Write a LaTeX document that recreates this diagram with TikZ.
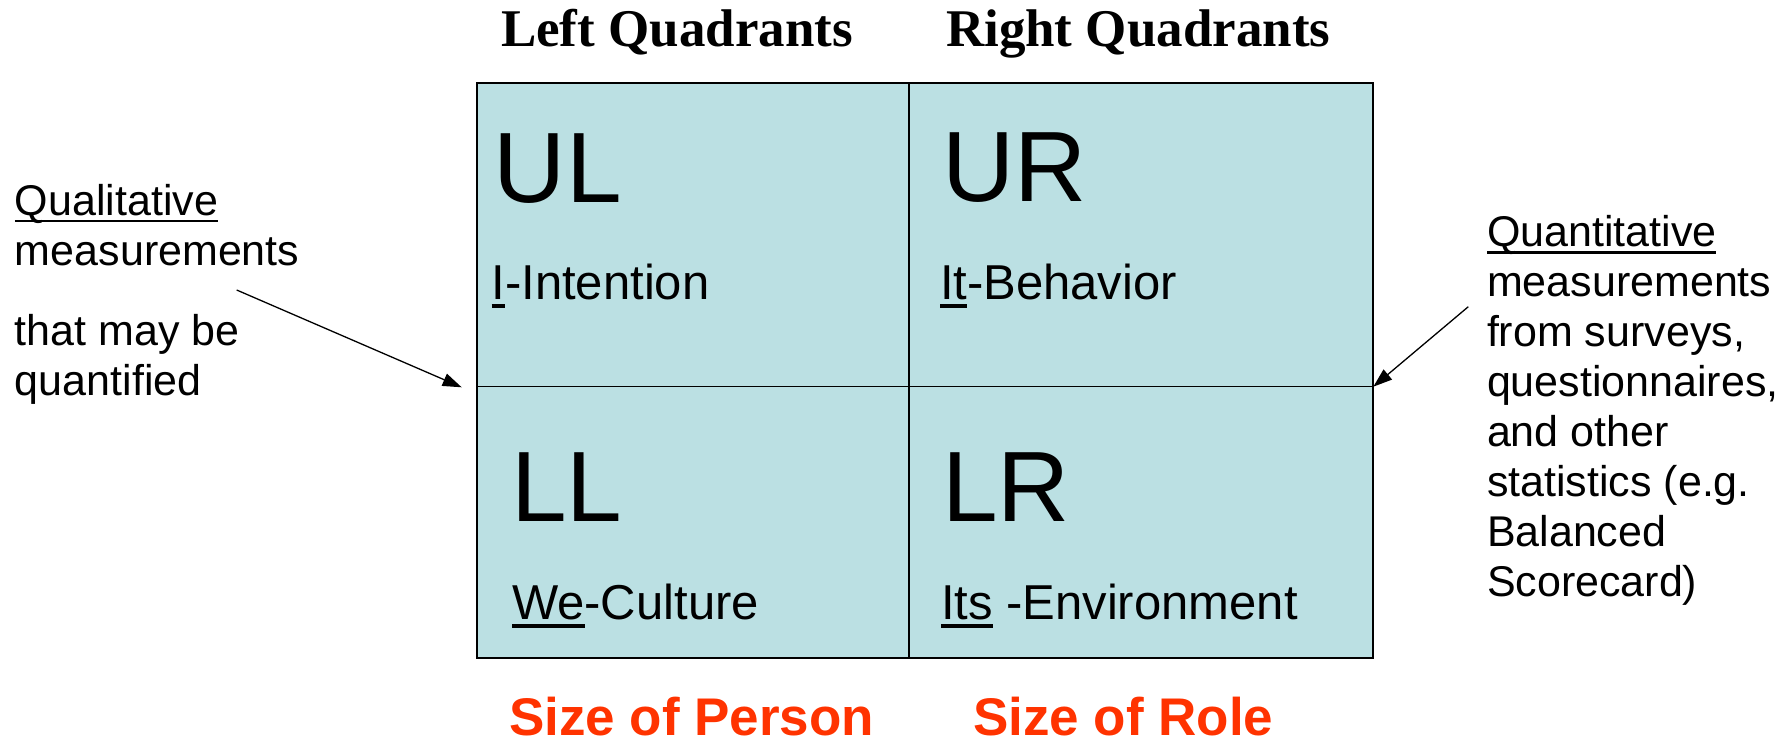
\documentclass[tikz,border=0pt]{standalone}
\usepackage{fontspec}
\setmainfont{Liberation Sans}
\newfontfamily\timesf{Liberation Serif}
\usetikzlibrary{arrows.meta}
\definecolor{quadfill}{RGB}{187,224,227}
\definecolor{sizered}{RGB}{255,51,0}
\newcommand\myul[1]{\setbox0\hbox{#1}\rlap{\rule[-0.17em]{\wd0}{0.065em}}\box0\relax}
\begin{document}
\begin{tikzpicture}[x=1pt,y=-1pt,
  txt/.style={anchor=base west, inner sep=0pt, outer sep=0pt},
  big/.style={txt, font=\fontsize{100}{120}\selectfont},
  sub/.style={txt, font=\fontsize{49}{58}\selectfont},
  head/.style={txt, font=\timesf\bfseries\fontsize{53}{64}\selectfont},
  sizelbl/.style={txt, font=\bfseries\fontsize{53}{64}\selectfont, text=sizered},
  side/.style={txt, font=\fontsize{43}{50}\selectfont},
  pointer/.style={-{Triangle[length=19pt,width=13pt]}, line width=1.3pt},
  outer/.style={line width=2pt},
  inner/.style={line width=1.5pt}
]
\useasboundingbox (0,0) rectangle (1792,740);

% headings
\node[head] (lq) at (501,46.7) {Left Quadrants};
\node[head] (rq) at (946,46.7) {Right Quadrants};

% grid
\coordinate (tl) at (476.7,83.3);
\coordinate (br) at (1372.7,658.3);
\coordinate (tm) at (909,83.3);
\coordinate (bm) at (909,658.3);
\coordinate (lm) at (476.7,386.7);
\coordinate (rm) at (1372.7,386.7);
\fill[quadfill] (tl) rectangle (br);
\draw[inner] (tm) -- (bm);
\draw[inner] (lm) -- (rm);
\draw[outer] (tl) rectangle (br);

% quadrant labels
\node[big] (ul) at (493.8,202.7) {UL};
\node[big] (ur) at (942,201.7) {UR};
\node[big] (ll) at (511,521.7) {LL};
\node[big] (lr) at (942,521.7) {LR};
\node[sub] (ulsub) at (491.5,299.3) {\myul{I}-Intention};
\node[sub] (ursub) at (940,299.3) {\myul{It}-Behavior};
\node[sub] (llsub) at (512,619.3) {\myul{We}-Culture};
\node[sub] (lrsub) at (941,619.3) {\myul{Its} -Environment};

% bottom labels
\node[sizelbl] (sp) at (509,735) {Size of Person};
\node[sizelbl] (sr) at (973,735) {Size of Role};

% side notes
\node[side] (qual) at (15,215) {\vtop{\baselineskip=50pt
  \hbox{\myul{Qualitative}}\hbox{measurements}\vskip 30pt
  \hbox{that may be}\hbox{quantified}}};
\node[side] (quant) at (1487,246.7) {\vtop{\baselineskip=50pt
  \hbox{\myul{Quantitative}}\hbox{measurements}\hbox{from surveys,}
  \hbox{questionnaires,}\hbox{and other}\hbox{statistics (e.g.}
  \hbox{Balanced}\hbox{Scorecard)}}};

% arrows
\coordinate (la) at (236.7,290);
\coordinate (lt) at (461.7,387.3);
\coordinate (ra) at (1468.3,306.7);
\coordinate (rt) at (1373.3,386.7);
\draw[pointer] (la) -- (lt);
\draw[pointer] (ra) -- (rt);
\end{tikzpicture}
\end{document}
